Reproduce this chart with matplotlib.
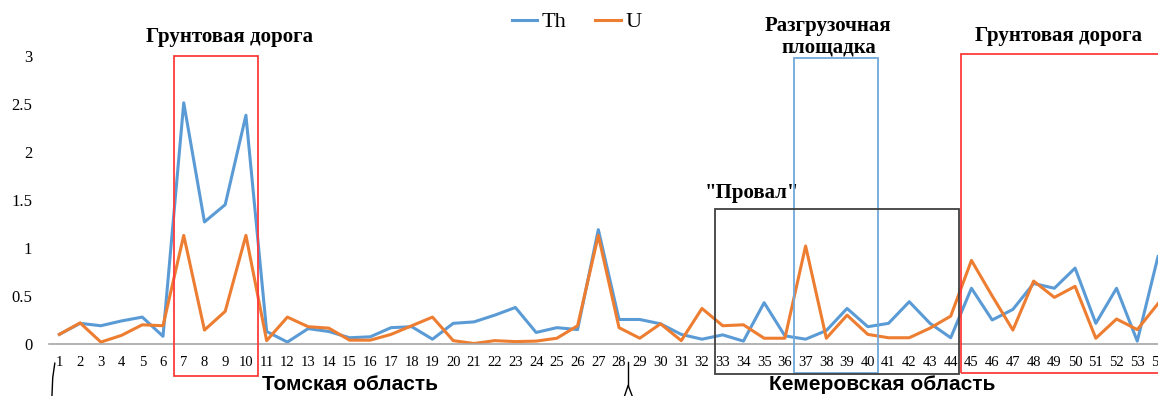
import matplotlib.pyplot as plt
from matplotlib.patches import Rectangle

# sample points along the route
points = list(range(1, 55))

th = [0.10, 0.215, 0.19, 0.24, 0.28, 0.08, 2.51, 1.27, 1.45, 2.38,
      0.13, 0.02, 0.16, 0.13, 0.065, 0.075, 0.17, 0.18, 0.05, 0.215,
      0.23, 0.30, 0.38, 0.12, 0.17, 0.15, 1.19, 0.255, 0.255, 0.21,
      0.10, 0.05, 0.095, 0.03, 0.43, 0.085, 0.05, 0.14, 0.37, 0.18,
      0.215, 0.44, 0.215, 0.065, 0.58, 0.25, 0.36, 0.63, 0.58, 0.79,
      0.215, 0.58, 0.03, 0.91]

u = [0.10, 0.22, 0.02, 0.09, 0.20, 0.19, 1.13, 0.145, 0.34, 1.13,
     0.035, 0.28, 0.18, 0.165, 0.04, 0.04, 0.10, 0.19, 0.28, 0.035,
     0.005, 0.035, 0.025, 0.03, 0.06, 0.19, 1.13, 0.17, 0.06, 0.21,
     0.035, 0.37, 0.19, 0.20, 0.06, 0.06, 1.02, 0.06, 0.30, 0.10,
     0.065, 0.065, 0.165, 0.29, 0.87, 0.50, 0.145, 0.655, 0.485, 0.60,
     0.06, 0.26, 0.15, 0.42]

y_ticks = [0, 0.5, 1, 1.5, 2, 2.5, 3]
y_labels = ["0", "0.5", "1", "1.5", "2", "2.5", "3"]

blue = "#5B9BD5"
orange = "#ED7D31"
serif = ["Liberation Serif", "DejaVu Serif"]
sans = ["Liberation Sans Narrow", "Liberation Sans", "DejaVu Sans"]

fig = plt.figure(figsize=(11.58, 3.96), dpi=100)
ax = fig.add_axes([49 / 1158, 52 / 396, 1109 / 1158, 288.3 / 396])

ax.plot(points, th, color=blue, lw=2.2, label="Th")
ax.plot(points, u, color=orange, lw=2.2, label="U")

ax.set_xlim(0.5, 54)
ax.set_ylim(0, 3)
ax.set_xticks(points)
ax.set_xticklabels([str(p) for p in points], fontsize=10.5, family=serif)
ax.set_yticks(y_ticks)
ax.set_yticklabels(y_labels, fontsize=12, family=serif)
ax.tick_params(axis="x", length=0, pad=9)
ax.tick_params(axis="y", length=0, pad=12)
for s in ["top", "right", "left"]:
    ax.spines[s].set_visible(False)
ax.spines["bottom"].set_color("#A6A6A6")
ax.spines["bottom"].set_linewidth(1.2)

# highlighted segments
boxes = [
    (6.53, -0.33, 4.06, 3.33, "#FF3B3B"),
    (36.46, -0.30, 4.05, 3.28, "#6FA8DC"),
    (32.64, -0.31, 11.78, 1.715, "#404040"),
    (44.52, -0.30, 12.0, 3.32, "#FF3B3B"),
]
for x0, y0, w, h, c in boxes:
    ax.add_patch(Rectangle((x0, y0), w, h, fill=False, edgecolor=c,
                           lw=1.3, clip_on=False, zorder=5))

bold = dict(family=serif, fontweight="bold", fontsize=15,
            ha="center", va="center")
ax.text(9.19, 3.195, "Грунтовая дорога", **bold)
ax.text(49.2, 3.205, "Грунтовая дорога", **bold)
ax.text(38.1, 3.2, "Разгрузочная\nплощадка", linespacing=1.1, **bold)
ax.text(34.43, 1.57, '"Провал"', **bold)

reg = dict(family=sans, fontweight="bold", fontsize=15,
           ha="center", va="center")
ax.text(15.03, -0.42, "Томская область", **reg)
ax.text(40.7, -0.42, "Кемеровская область", **reg)

# brace ends
ax.plot([0.78, 0.68, 0.64], [-0.2, -0.35, -0.55], color="black", lw=1.0,
        clip_on=False)
ax.plot([28.44, 28.44], [-0.19, -0.43], color="black", lw=1.0, clip_on=False)
ax.plot([28.25, 28.44, 28.65], [-0.55, -0.43, -0.55], color="black", lw=1.0,
        clip_on=False)

fig.legend(loc="center", bbox_to_anchor=(0.498, 0.944), ncol=2,
           frameon=False, handlelength=1.15, handletextpad=0.2,
           columnspacing=1.3, prop={"family": serif, "size": 16})

fig.savefig("out.png", dpi=100)
